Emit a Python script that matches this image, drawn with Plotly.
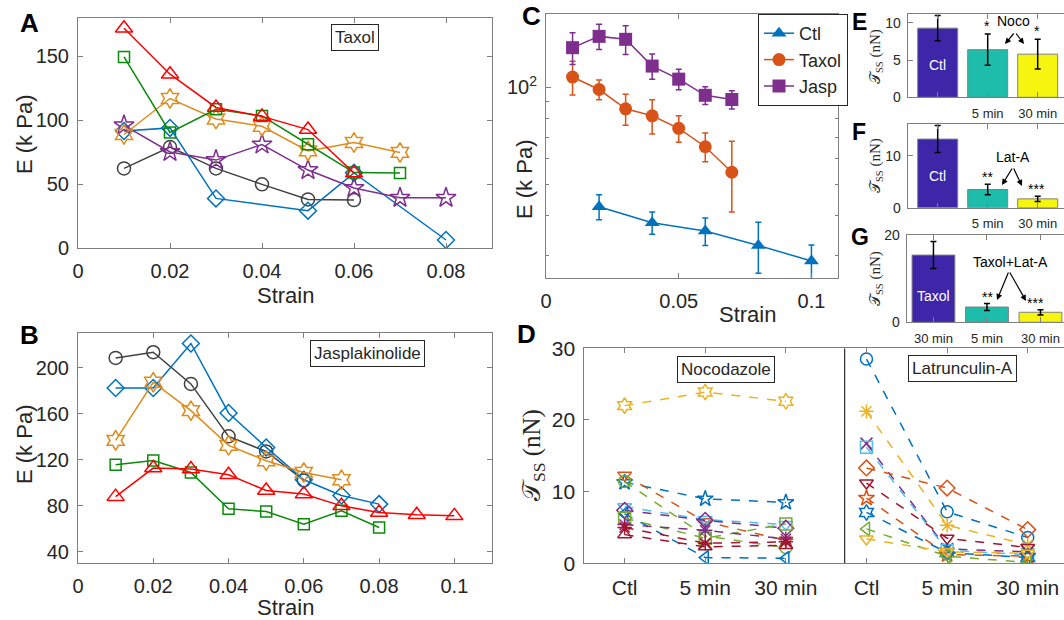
import plotly.graph_objects as go

W, H = 1064, 620

# ---------------- data ----------------
strain_A = [0.01, 0.02, 0.03, 0.04, 0.05, 0.06, 0.07, 0.08]
A_red = [172, 136, 110, 103, 92.7, 58.6]
A_green = [149.5, 90.4, 108.6, 103.4, 81.2, 59, 58.6]
A_orange = [88.8, 117, 101, 95.3, 76, 82.6, 74.8]
A_purple = [96, 75.2, 68.8, 81, 61, 47, 39.3, 39.3]
A_black = [62.3, 79, 62.3, 49.8, 38, 37.5]
A_blue_x = [0.01, 0.02, 0.03, 0.05, 0.06, 0.08]
A_blue = [91.6, 94, 38.8, 29.2, 58.8, 6.25]

strain_B = [0.01, 0.02, 0.03, 0.04, 0.05, 0.06, 0.07, 0.08, 0.09, 0.10]
B_black = [208.4, 213.3, 185.8, 140.3, 127.2, 102]
B_blue = [182.3, 182.3, 220.9, 160.6, 130.7, 102.6, 89, 81.5]
B_orange = [136.8, 187.2, 162.6, 132.5, 119.1, 109, 102.6]
B_green = [115.7, 119.4, 109, 77.4, 75, 64.1, 75.7, 61.2]
B_red = [88, 112.8, 111.9, 107, 93.3, 90.2, 80, 74.2, 72.2, 71.3]

C_ctl_x = [0.02, 0.04, 0.06, 0.08, 0.10]
C_ctl = [42.5, 37.9, 35.7, 32.2, 28.8]
C_ctl_err = [3.8, 3.0, 3.5, 5.8, 3.5]
C_tax_x = [0.01, 0.02, 0.03, 0.04, 0.05, 0.06, 0.07]
C_tax = [107.6, 98.4, 85.7, 81.5, 74.5, 65.3, 54.4]
C_tax_err = [13, 7, 9.5, 10, 7, 6.7, 13.5]
C_jas_x = [0.01, 0.02, 0.03, 0.04, 0.05, 0.06, 0.07]
C_jas = [132.8, 144, 141, 116.4, 106, 94.4, 91.6]
C_jas_err = [15, 13, 14.5, 10.5, 7.8, 6, 6]

D_noco_x = [1, 2, 3]
D_lat_x = [4, 5, 6]
D_ticks = ["Ctl", "5 min", "30 min", "Ctl", "5 min", "30 min"]
N_yel_hex = [22.0, 23.9, 22.6]
N_blu_star = [11.3, 9.0, 8.5]
N_ora_dtri = [12.3, 5.8, 3.2]
N_grn_circ = [11.4, 3.8, 2.2]
N_cya_dtri = [7.9, 6.1, 5.4]
N_pur_diam = [7.4, 6.0, 4.9]
N_blu_ltri = [6.9, 0.8, 0.7]
N_grn_sq = [6.3, 3.5, 5.5]
N_pur_ast = [5.4, 4.6, 3.4]
N_red_tri = [4.0, 2.3, 2.5]
N_red_ast = [5.0, 2.8, 3.0]
L_blu_circ = [28.5, 7.2, 3.6]
L_yel_ast = [21.2, 5.3, 2.6]
L_pur_x = [16.7, 2.0, 1.6]
L_cya_sq = [16.2, 1.8, 1.2]
L_ora_diam = [13.3, 10.5, 4.7]
L_red_dtri = [11.2, 3.5, 2.2]
L_ora_star = [9.1, 1.2, 1.0]
L_blu_hex = [7.1, 1.5, 0.8]
L_grn_ltri = [4.8, 1.0, 0.1]
L_yel_dtri = [3.4, 1.6, 1.4]

bar_x = [1, 2, 3]
E_vals = [9.3, 6.4, 5.8]
E_err = [1.7, 2.1, 2.0]
E_ticks = ["", "5 min", "30 min"]
F_vals = [13.2, 3.5, 1.7]
F_err = [2.6, 1.0, 0.5]
F_ticks = ["", "5 min", "30 min"]
G_vals = [15.4, 3.5, 2.3]
G_err = [3.1, 0.8, 0.6]
G_ticks = ["30 min", "5 min", "30 min"]

# ---------------- helpers ----------------
def dx(l, r):
    return [l / W, min(r / W, 1.0)]

def dy(t, b):
    return [1 - b / H, 1 - t / H]

FONT = "Liberation Sans, Arial, sans-serif"
SERIF = "Liberation Serif, DejaVu Serif, serif"
AX = "#7f7f7f"
TXT = "#262626"

def axstyle(size=20, mirror="ticks", **kw):
    d = dict(showline=True, linecolor=AX, linewidth=1, mirror=mirror,
             ticks="inside", ticklen=5, tickcolor=AX, showgrid=False,
             zeroline=False, automargin=False,
             tickfont=dict(family=FONT, size=size, color=TXT))
    d.update(kw)
    return d

fig = go.Figure()

def line_trace(x, y, color, symbol, xa, ya, size=13, dash=None, width=1.5):
    fig.add_trace(go.Scatter(
        x=x[:len(y)], y=y, mode="lines+markers", xaxis=xa, yaxis=ya,
        line=dict(color=color, width=width, dash=dash),
        marker=dict(symbol=symbol, size=size, color=color,
                    line=dict(color=color, width=1.5)),
        showlegend=False))

RED, GRN, ORA, PUR, BLK, BLU = "#FF0000", "#0A8A0A", "#E08A1A", "#7E2F8E", "#404040", "#0072BD"

# Panel A
line_trace(strain_A, A_black, BLK, "circle-open", "x", "y")
line_trace(A_blue_x, A_blue, BLU, "diamond-open", "x", "y")
line_trace(strain_A, A_purple, PUR, "star-open", "x", "y", size=15)
line_trace(strain_A, A_orange, ORA, "hexagram-open", "x", "y", size=15)
line_trace(strain_A, A_green, GRN, "square-open", "x", "y", size=11)
line_trace(strain_A, A_red, RED, "triangle-up-open", "x", "y", size=15)

# Panel B
line_trace(strain_B, B_black, BLK, "circle-open", "x2", "y2")
line_trace(strain_B, B_blue, BLU, "diamond-open", "x2", "y2")
line_trace(strain_B, B_orange, ORA, "hexagram-open", "x2", "y2", size=15)
line_trace(strain_B, B_green, GRN, "square-open", "x2", "y2", size=11)
line_trace(strain_B, B_red, RED, "triangle-up-open", "x2", "y2", size=15)

# Panel C
for x, y, e, c, s, name in [
        (C_ctl_x, C_ctl, C_ctl_err, "#0072BD", "triangle-up", "Ctl"),
        (C_tax_x, C_tax, C_tax_err, "#D95319", "circle", "Taxol"),
        (C_jas_x, C_jas, C_jas_err, "#7E2F8E", "square", "Jasp")]:
    fig.add_trace(go.Scatter(
        x=x, y=y, mode="lines+markers", xaxis="x3", yaxis="y3", name=name,
        line=dict(color=c, width=1.5),
        marker=dict(symbol=s, size=13, color=c),
        error_y=dict(type="data", array=e, color=c, thickness=1.5, width=3),
        showlegend=True))

# Panel D
DB, DO, DY, DP, DG, DC, DR = "#0072BD", "#D95319", "#EDB120", "#7E2F8E", "#77AC30", "#4DBEEE", "#A2142F"
for y, c, s in [(N_yel_hex, DY, "hexagram-open"), (N_blu_star, DB, "star-open"),
                (N_ora_dtri, DO, "triangle-down-open"), (N_grn_circ, DG, "circle-open"),
                (N_cya_dtri, DC, "triangle-down-open"), (N_pur_diam, DP, "diamond-open"),
                (N_blu_ltri, DB, "triangle-left-open"), (N_grn_sq, DG, "square-open"),
                (N_pur_ast, DP, "asterisk-open"), (N_red_tri, DR, "triangle-up-open"),
                (N_red_ast, DR, "asterisk-open")]:
    line_trace(D_noco_x, y, c, s, "x4", "y4", size=12, dash="dash")
for y, c, s in [(L_blu_circ, DB, "circle-open"), (L_yel_ast, DY, "asterisk-open"),
                (L_pur_x, DP, "x-thin-open"), (L_cya_sq, DC, "square-open"),
                (L_ora_diam, DO, "diamond-open"), (L_red_dtri, DR, "triangle-down-open"),
                (L_ora_star, DO, "star-open"), (L_blu_hex, DB, "hexagram-open"),
                (L_grn_ltri, DG, "triangle-left-open"), (L_yel_dtri, DY, "triangle-down-open")]:
    line_trace(D_lat_x, y, c, s, "x4", "y4", size=12, dash="dash")

# Panels E, F, G bars
BAR_COLORS = ["#3E26A8", "#1EBCAA", "#F5F50F"]
for vals, errs, xa, ya in [(E_vals, E_err, "x5", "y5"), (F_vals, F_err, "x6", "y6"),
                           (G_vals, G_err, "x7", "y7")]:
    fig.add_trace(go.Bar(
        x=bar_x, y=vals, xaxis=xa, yaxis=ya, width=0.8,
        marker=dict(color=BAR_COLORS, line=dict(color="#808080", width=1)),
        error_y=dict(type="data", array=errs, color="black", thickness=1.5, width=3),
        showlegend=False))

# ---------------- layout ----------------
lay = dict(
    width=W, height=H, margin=dict(l=0, r=0, t=0, b=0, autoexpand=False),
    paper_bgcolor="white", plot_bgcolor="white",
    font=dict(family=FONT, color=TXT),
    legend=dict(x=758 / W, y=1 - 14 / H, xanchor="left", yanchor="top",
                bordercolor="#262626", borderwidth=1, bgcolor="white",
                font=dict(family=FONT, size=18, color=TXT),
                tracegroupgap=0, itemwidth=30),
)
lay["xaxis"] = axstyle(domain=dx(78, 492), range=[0, 0.09], anchor="y",
                       tickvals=[0, 0.02, 0.04, 0.06, 0.08],
                       ticktext=["0", "0.02", "0.04", "0.06", "0.08"], ticklabelstandoff=5)
lay["yaxis"] = axstyle(domain=dy(18, 248), range=[0, 180], anchor="x",
                       tickvals=[0, 50, 100, 150], ticklabelstandoff=4)
lay["xaxis2"] = axstyle(domain=dx(78, 492), range=[0, 0.11], anchor="y2",
                        tickvals=[0, 0.02, 0.04, 0.06, 0.08, 0.1],
                        ticktext=["0", "0.02", "0.04", "0.06", "0.08", "0.1"], ticklabelstandoff=5)
lay["yaxis2"] = axstyle(domain=dy(333, 563), range=[30.4, 230], anchor="x2",
                        tickvals=[40, 80, 120, 160, 200], ticklabelstandoff=4)
lay["xaxis3"] = axstyle(domain=dx(546, 838), range=[0, 0.11], anchor="y3",
                        tickvals=[0, 0.05, 0.1], ticktext=["0", "0.05", "0.1"], ticklabelstandoff=5)
lay["yaxis3"] = axstyle(domain=dy(14, 278), type="log", range=[1.4065, 2.228], anchor="x3",
                        tickvals=[100], ticktext=["10<sup>2</sup>"], ticklabelstandoff=4,
                        minor=dict(tickvals=[30, 40, 50, 60, 70, 80, 90], ticks="inside",
                                   ticklen=3, tickcolor=AX))
lay["xaxis4"] = axstyle(size=21, domain=dx(584.3, 1064), range=[0.5, 6.45], anchor="y4",
                        tickvals=[1, 2, 3, 4, 5, 6], ticktext=D_ticks, ticklabelstandoff=5)
lay["yaxis4"] = axstyle(size=21, domain=dy(348.3, 563.3), range=[0, 30], anchor="x4", mirror=False,
                        tickvals=[0, 10, 20, 30], ticklabelstandoff=4)
lay["xaxis5"] = axstyle(size=13, domain=dx(907.7, 1064), range=[0.4, 3.526], anchor="y5",
                        tickvals=bar_x, ticktext=E_ticks, ticklabelstandoff=4)
lay["yaxis5"] = axstyle(size=14, domain=dy(14, 97.3), range=[0, 11.2], anchor="x5", mirror=False,
                        tickvals=[0, 5, 10], ticklabelstandoff=3)
lay["xaxis6"] = axstyle(size=13, domain=dx(907.7, 1064), range=[0.4, 3.526], anchor="y6",
                        tickvals=bar_x, ticktext=F_ticks, ticklabelstandoff=4)
lay["yaxis6"] = axstyle(size=14, domain=dy(124, 207.7), range=[0, 16.1], anchor="x6", mirror=False,
                        tickvals=[0, 10], ticklabelstandoff=3)
lay["xaxis7"] = axstyle(size=13, domain=dx(906.7, 1064), range=[0.5, 3.44], anchor="y7",
                        tickvals=bar_x, ticktext=G_ticks, ticklabelstandoff=4)
lay["yaxis7"] = axstyle(size=14, domain=dy(235, 322.3), range=[0, 20], anchor="x7", mirror=False,
                        tickvals=[0, 20], ticklabelstandoff=3)
fig.update_layout(**lay)

# divider in D
fig.add_shape(type="line", xref="x4", yref="y4", x0=3.73, x1=3.73, y0=0, y1=30,
              line=dict(color="black", width=1))

def ann(x, y, text, size=18, angle=0, bold=False, family=FONT, color=TXT, box=False, **kw):
    d = dict(x=x / W, y=1 - y / H, xref="paper", yref="paper", text=text,
             showarrow=False, textangle=angle, xanchor="center", yanchor="middle",
             font=dict(family=family, size=size, color=color))
    if bold:
        d["text"] = "<b>" + text + "</b>"
    if box:
        d.update(bordercolor="#262626", borderwidth=1, borderpad=3, bgcolor="white")
    d.update(kw)
    fig.add_annotation(**d)

# panel letters
ann(29, 23, "A", size=26, bold=True, color="black")
ann(29, 335, "B", size=26, bold=True, color="black")
ann(531, 16, "C", size=26, bold=True, color="black")
ann(526, 334, "D", size=26, bold=True, color="black")
ann(859, 22, "E", size=23, bold=True, color="black")
ann(859, 132, "F", size=23, bold=True, color="black")
ann(860, 237, "G", size=23, bold=True, color="black")

# axis titles
ann(285, 295, "Strain", size=22)
ann(285, 607, "Strain", size=22)
ann(747, 314, "Strain", size=22)
ann(24, 135, "E (k Pa)", size=22, angle=-90)
ann(24, 445, "E (k Pa)", size=22, angle=-90)
ann(525, 180, "E (k Pa)", size=22, angle=-90)
TSS = "𝒯<sub>SS</sub> (nN)"
ann(533, 455, TSS, size=25, angle=-90, family=SERIF)
ann(876, 57, TSS, size=15, angle=-90, family=SERIF)
ann(876, 166, TSS, size=15, angle=-90, family=SERIF)
ann(876, 279, TSS, size=15, angle=-90, family=SERIF)

# text boxes
ann(355, 37, "Taxol", size=17, box=True)
ann(367, 353, "Jasplakinolide", size=17, box=True)
ann(726, 369, "Nocodazole", size=17, box=True)
ann(962, 368, "Latrunculin-A", size=17, box=True)

# bar labels
ann(937.5, 65, "Ctl", size=14, color="white")
ann(937.5, 176, "Ctl", size=14, color="white")
ann(933.3, 296, "Taxol", size=14, color="white")
ann(986.7, 26, "*", size=14, color="black")
ann(1036.7, 31, "*", size=14, color="black")
ann(1013, 21, "Noco", size=14, color="black")
ann(987, 177, "**", size=14, color="black")
ann(1036, 189, "***", size=14, color="black")
ann(1013, 157, "Lat-A", size=14, color="black")
ann(987, 297, "**", size=14, color="black")
ann(1035, 303, "***", size=14, color="black")
ann(1010, 262, "Taxol+Lat-A", size=14, color="black")

def arrow(apex, head):
    fig.add_annotation(x=head[0] / W, y=1 - head[1] / H, xref="paper", yref="paper",
                       ax=apex[0] - head[0], ay=apex[1] - head[1], text="",
                       showarrow=True, arrowhead=2, arrowsize=1, arrowwidth=1.2,
                       arrowcolor="black")

arrow((1015, 32), (1005, 44))
arrow((1015, 32), (1024, 44))
arrow((1013, 167), (1002, 185))
arrow((1013, 167), (1022, 186))
arrow((1009, 271), (997, 300))
arrow((1009, 271), (1026, 301))

fig.write_html("out.html", config={"displayModeBar": False},
               post_script="document.body.style.margin='0';document.body.style.overflow='hidden';")
